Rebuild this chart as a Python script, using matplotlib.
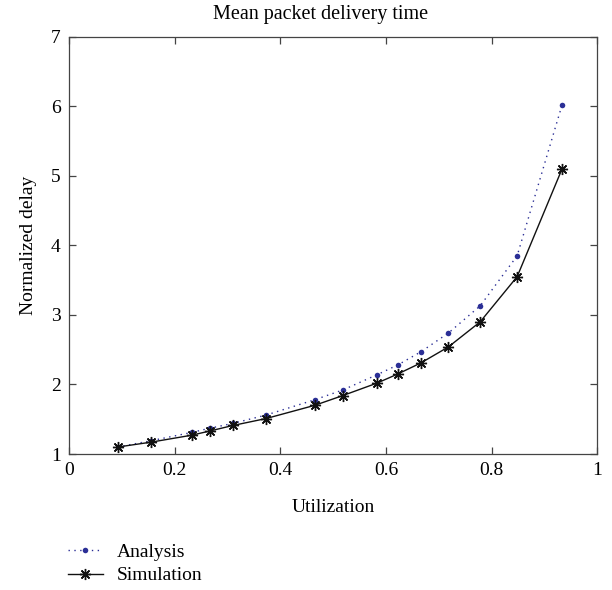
import numpy as np
from matplotlib import pyplot as plt
from matplotlib.lines import Line2D

plt.rcParams["font.family"] = ["Liberation Serif", "DejaVu Serif"]

utilization = [0.092, 0.155, 0.232, 0.266, 0.310, 0.373, 0.465, 0.518,
               0.583, 0.622, 0.666, 0.718, 0.778, 0.848, 0.933]
delay_analysis = [1.10, 1.19, 1.31, 1.37, 1.44, 1.56, 1.78, 1.92,
                  2.14, 2.28, 2.47, 2.74, 3.13, 3.85, 6.02]
delay_simulation = [1.10, 1.17, 1.27, 1.33, 1.41, 1.51, 1.70, 1.84,
                    2.02, 2.15, 2.31, 2.54, 2.90, 3.55, 5.10]

x_ticks = [0, 0.2, 0.4, 0.6, 0.8, 1]
x_tick_labels = ["0", "0.2", "0.4", "0.6", "0.8", "1"]
y_ticks = [1, 2, 3, 4, 5, 6, 7]

blue = "#2b2f96"
black = "#111111"
axis_gray = "#444444"
fs = 14

analysis_style = dict(linestyle=(0, (1, 3.2)), color=blue, linewidth=1.0,
                      marker="o", markersize=4, markeredgewidth=0)
simulation_style = dict(linestyle="-", color=black, linewidth=1.0,
                        marker=(8, 2, 0), markersize=8, markeredgewidth=1.0,
                        markeredgecolor=black)

fig = plt.figure(figsize=(6.12, 5.9), dpi=100)
ax = fig.add_axes([0.1127, 0.2305, 0.8636, 0.7073])

ax.plot(utilization, delay_analysis, label="Analysis", **analysis_style)
ax.plot(utilization, delay_simulation, label="Simulation", **simulation_style)

ax.set_xlim(0, 1)
ax.set_ylim(1, 7)
ax.set_xticks(x_ticks)
ax.set_xticklabels(x_tick_labels)
ax.set_yticks(y_ticks)
ax.tick_params(direction="in", top=True, right=True, length=5, width=0.9,
               color=axis_gray, labelsize=fs, pad=6)
for spine in ax.spines.values():
    spine.set_color(axis_gray)
    spine.set_linewidth(0.9)

fig.text(0.523, 0.975, "Mean packet delivery time", fontsize=14.5,
         ha="center", va="center")
ax.set_xlabel("Utilization", fontsize=fs, labelpad=14)
ax.set_ylabel("Normalized delay", fontsize=fs, labelpad=10)

handles = [Line2D([], [], **analysis_style), Line2D([], [], **simulation_style)]
fig.legend(handles, ["Analysis", "Simulation"], loc="upper left",
           bbox_to_anchor=(0.111, 0.079), frameon=False, fontsize=fs,
           borderpad=0, borderaxespad=0, handlelength=1.8,
           handletextpad=0.72, labelspacing=0.3)

fig.savefig("out.png", dpi=100)
